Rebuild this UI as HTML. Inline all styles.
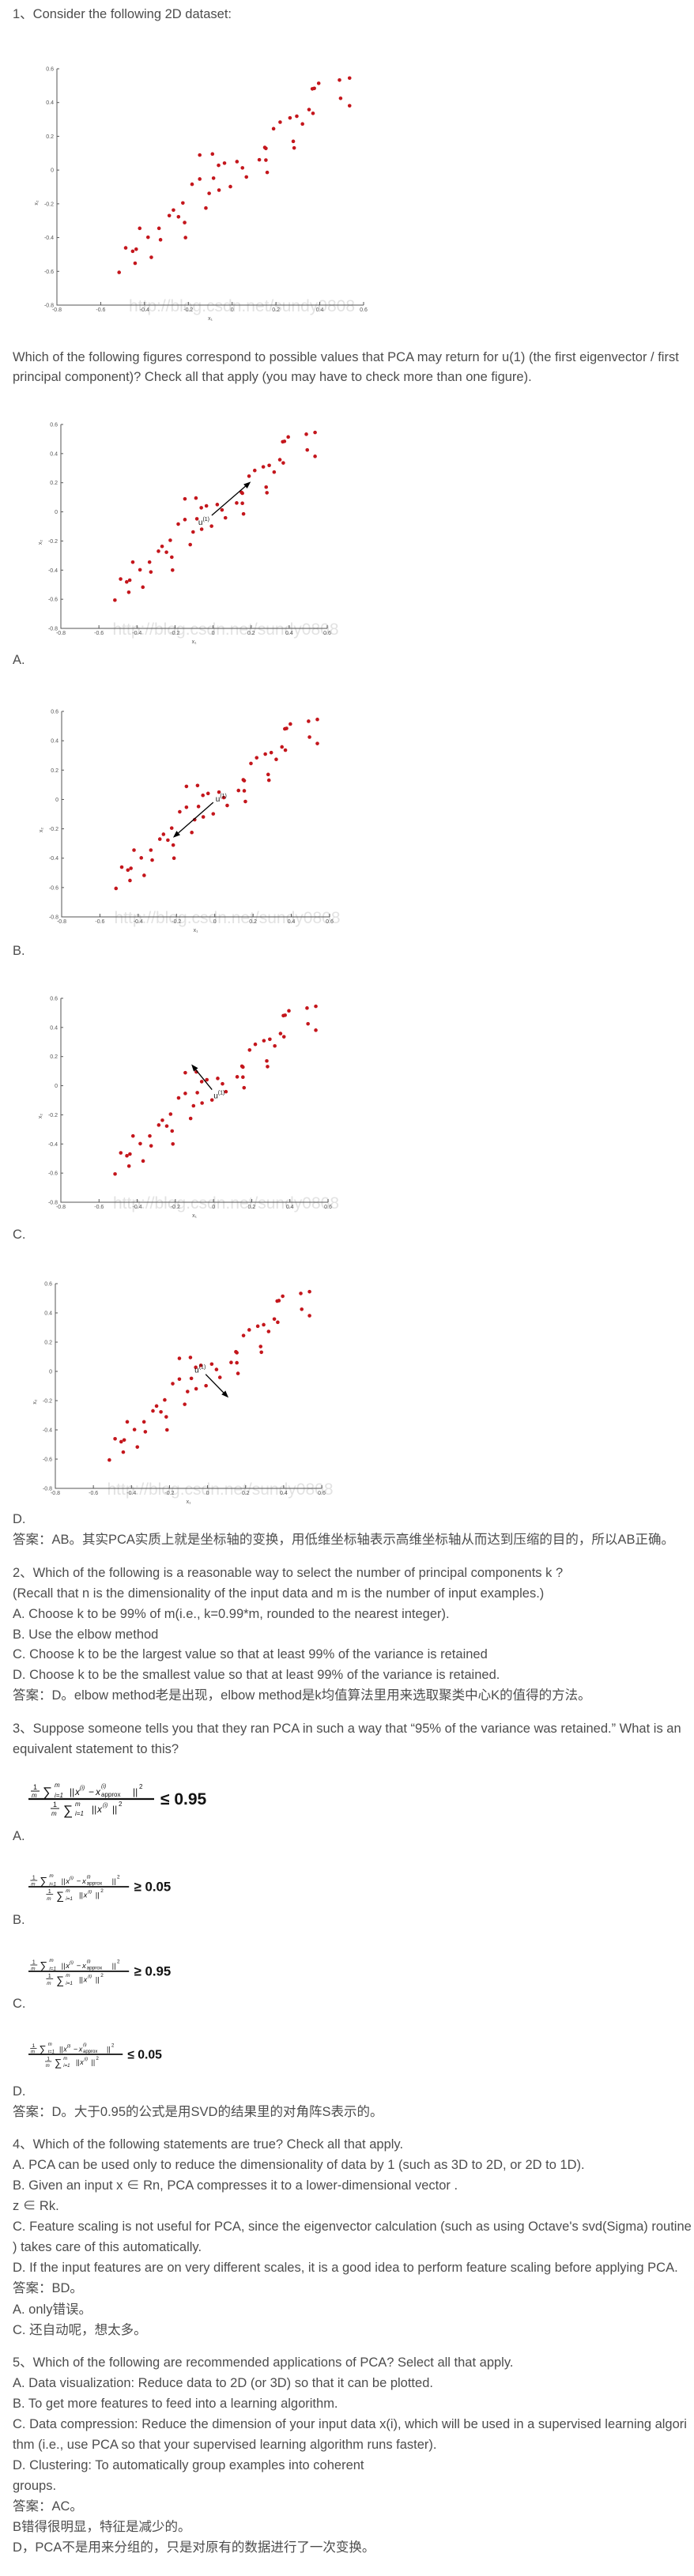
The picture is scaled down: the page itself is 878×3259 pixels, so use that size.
<!DOCTYPE html>
<html><head><meta charset="utf-8">
<style>
html,body{margin:0;padding:0;background:#fff;}
#page{position:relative;width:878px;height:3259px;overflow:hidden;background:#fff;}
.t{position:absolute;left:16px;height:26px;line-height:26px;font-family:"Liberation Sans","Noto Sans CJK SC",sans-serif;font-size:16.5px;color:#4d4d4d;white-space:nowrap;}
svg text{font-family:"Liberation Sans",sans-serif;}
</style></head>
<body>
<div id="page">
<svg id="svg" width="878" height="3259" style="position:absolute;left:0;top:0"></svg>

<div class="t" style="top:5px">1、Consider the following 2D dataset:</div>
<div class="t" style="top:439px">Which of the following figures correspond to possible values that PCA may return for u(1) (the first eigenvector / first</div>
<div class="t" style="top:464px">principal component)? Check all that apply (you may have to check more than one figure).</div>
<div class="t" style="top:822px">A.</div>
<div class="t" style="top:1190px">B.</div>
<div class="t" style="top:1549px">C.</div>
<div class="t" style="top:1909px">D.</div>
<div class="t" style="top:1935px">答案：AB。其实PCA实质上就是坐标轴的变换，用低维坐标轴表示高维坐标轴从而达到压缩的目的，所以AB正确。</div>

<div class="t" style="top:1977px">2、Which of the following is a reasonable way to select the number of principal components k ?</div>
<div class="t" style="top:2003px">(Recall that n is the dimensionality of the input data and m is the number of input examples.)</div>
<div class="t" style="top:2029px">A. Choose k to be 99% of m(i.e., k=0.99*m, rounded to the nearest integer).</div>
<div class="t" style="top:2055px">B. Use the elbow method</div>
<div class="t" style="top:2080px">C. Choose k to be the largest value so that at least 99% of the variance is retained</div>
<div class="t" style="top:2106px">D. Choose k to be the smallest value so that at least 99% of the variance is retained.</div>
<div class="t" style="top:2132px">答案：D。elbow method老是出现，elbow method是k均值算法里用来选取聚类中心K的值得的方法。</div>

<div class="t" style="top:2174px">3、Suppose someone tells you that they ran PCA in such a way that “95% of the variance was retained.” What is an</div>
<div class="t" style="top:2200px">equivalent statement to this?</div>
<div class="t" style="top:2310px">A.</div>
<div class="t" style="top:2416px">B.</div>
<div class="t" style="top:2522px">C.</div>
<div class="t" style="top:2633px">D.</div>
<div class="t" style="top:2659px">答案：D。大于0.95的公式是用SVD的结果里的对角阵S表示的。</div>

<div class="t" style="top:2700px">4、Which of the following statements are true? Check all that apply.</div>
<div class="t" style="top:2726px">A. PCA can be used only to reduce the dimensionality of data by 1 (such as 3D to 2D, or 2D to 1D).</div>
<div class="t" style="top:2752px">B. Given an input x ∈ Rn, PCA compresses it to a lower-dimensional vector .</div>
<div class="t" style="top:2778px">z ∈ Rk.</div>
<div class="t" style="top:2804px">C. Feature scaling is not useful for PCA, since the eigenvector calculation (such as using Octave's svd(Sigma) routine</div>
<div class="t" style="top:2830px">) takes care of this automatically.</div>
<div class="t" style="top:2856px">D. If the input features are on very different scales, it is a good idea to perform feature scaling before applying PCA.</div>
<div class="t" style="top:2882px">答案：BD。</div>
<div class="t" style="top:2909px">A. only错误。</div>
<div class="t" style="top:2935px">C. 还自动呢，想太多。</div>

<div class="t" style="top:2976px">5、Which of the following are recommended applications of PCA? Select all that apply.</div>
<div class="t" style="top:3002px">A. Data visualization: Reduce data to 2D (or 3D) so that it can be plotted.</div>
<div class="t" style="top:3028px">B. To get more features to feed into a learning algorithm.</div>
<div class="t" style="top:3054px">C. Data compression: Reduce the dimension of your input data x(i), which will be used in a supervised learning algori</div>
<div class="t" style="top:3080px">thm (i.e., use PCA so that your supervised learning algorithm runs faster).</div>
<div class="t" style="top:3106px">D. Clustering: To automatically group examples into coherent</div>
<div class="t" style="top:3132px">groups.</div>
<div class="t" style="top:3158px">答案：AC。</div>
<div class="t" style="top:3184px">B错得很明显，特征是减少的。</div>
<div class="t" style="top:3210px">D，PCA不是用来分组的，只是对原有的数据进行了一次变换。</div>
</div>

<script>
// ---- data ----
const xVals = [-0.516,-0.486,-0.454,-0.438,-0.443,-0.422,-0.384,-0.369,-0.334,-0.327,-0.287,-0.268,-0.245,-0.225,-0.217,-0.213,-0.183,-0.148,-0.148,-0.120,-0.105,-0.090,-0.085,-0.062,-0.060,-0.035,-0.008,0.022,0.047,0.065,0.124,0.149,0.154,0.154,0.160,0.189,0.219,0.264,0.279,0.283,0.295,0.321,0.351,0.369,0.366,0.375,0.395,0.490,0.495,0.536,0.536];
const yVals = [-0.606,-0.461,-0.481,-0.469,-0.552,-0.345,-0.398,-0.517,-0.345,-0.413,-0.270,-0.237,-0.277,-0.195,-0.311,-0.400,-0.084,0.089,-0.053,-0.225,-0.138,0.095,-0.048,0.028,-0.119,0.041,-0.098,0.050,0.013,-0.041,0.061,0.134,0.128,0.059,-0.014,0.245,0.284,0.309,0.170,0.131,0.319,0.273,0.358,0.336,0.481,0.484,0.514,0.533,0.425,0.545,0.381];
const xTicks = [-0.8,-0.6,-0.4,-0.2,0,0.2,0.4,0.6];
const xTickLabels = ['-0.8','-0.6','-0.4','-0.2','0','0.2','0.4','0.6'];
const yTicks = [0.6,0.4,0.2,0,-0.2,-0.4,-0.6,-0.8];
const yTickLabels = ['0.6','0.4','0.2','0','-0.2','-0.4','-0.6','-0.8'];
const arrowStartX = [-0.007,-0.008,-0.008,-0.010];
const arrowStartY = [-0.024,-0.020,-0.027,-0.020];
const arrowEndX = [0.198,-0.218,-0.116,0.110];
const arrowEndY = [0.207,-0.260,0.147,-0.180];

const NS='http://www.w3.org/2000/svg';
const svg=document.getElementById('svg');
function mk(tag,attrs,parent){const e=document.createElementNS(NS,tag);for(const k in attrs)e.setAttribute(k,attrs[k]);(parent||svg).appendChild(e);return e;}

const layouts=[
 {name:'dataset-chart',l:72,r:460,t:87,b:386,arrow:-1},
 {name:'option-a-chart',l:77,r:414,t:537,b:795,arrow:0,lx:-17,ly:8},
 {name:'option-b-chart',l:78,r:417,t:900,b:1160,arrow:1,lx:3,ly:-5},
 {name:'option-c-chart',l:77,r:415,t:1263,b:1521,arrow:2,lx:2,ly:7},
 {name:'option-d-chart',l:70,r:407,t:1624,b:1883,arrow:3,lx:-14,ly:-6}
];

layouts.forEach(L=>{
  const g=mk('g',{});
  
  
  const xMin=xTicks[0],xMax=xTicks[xTicks.length-1];
  const yMin=yTicks[yTicks.length-1],yMax=yTicks[0];
  const sx=v=>L.l+(v-xMin)/(xMax-xMin)*(L.r-L.l);
  const sy=v=>L.b-(v-yMin)/(yMax-yMin)*(L.b-L.t);
  const wm=mk('text',{x:(L.l+L.r)/2+40,y:L.b+8,'text-anchor':'middle','font-size':'21','fill':'#e2e2e2','font-family':'Liberation Serif, serif'},g);
  wm.textContent='http://blog.csdn.net/sundy0808';
  
  
  const ax=mk('path',{d:`M${L.l} ${L.t}V${L.b}H${L.r}`,stroke:'#555',fill:'none','stroke-width':'1'},g);
  
  
  xTicks.forEach((v,i)=>{
    const x=sx(v);
    mk('line',{x1:x,x2:x,y1:L.b,y2:L.b-4,stroke:'#555'},g);
    const t=mk('text',{x:x,y:L.b+8,'text-anchor':'middle','font-size':'7','fill':'#555'},g);
    t.textContent=xTickLabels[i];
    
    
  });
  yTicks.forEach((v,i)=>{
    const y=sy(v);
    mk('line',{x1:L.l,x2:L.l+3,y1:y,y2:y,stroke:'#555'},g);
    const t=mk('text',{x:L.l-4,y:y+2.5,'text-anchor':'end','font-size':'7','fill':'#555'},g);
    t.textContent=yTickLabels[i];
    
    
  });
  const xl=mk('text',{x:(L.l+L.r)/2,y:L.b+19,'text-anchor':'middle','font-size':'7','fill':'#555'},g);
  xl.textContent='x₁';
  
  
  const yl=mk('text',{x:L.l-24,y:(L.t+L.b)/2+20,'text-anchor':'middle','font-size':'7','fill':'#555',transform:`rotate(-90 ${L.l-24} ${(L.t+L.b)/2+20})`},g);
  yl.textContent='x₂';
  
  
  xVals.forEach((v,i)=>{
    const c=mk('circle',{cx:sx(v),cy:sy(yVals[i]),r:2.3,fill:'#c4161c'},g);
    
    
  });
  if(L.arrow>=0){
    const k=L.arrow;
    const x1=sx(arrowStartX[k]),y1=sy(arrowStartY[k]),x2=sx(arrowEndX[k]),y2=sy(arrowEndY[k]);
    const ang=Math.atan2(y2-y1,x2-x1),hl=9,hw=3.5;
    const bx=x2-hl*Math.cos(ang),by=y2-hl*Math.sin(ang);
    const ln=mk('line',{x1:x1,y1:y1,x2:bx,y2:by,stroke:'#000','stroke-width':'1.3'},g);
    
    
    const px=-Math.sin(ang),py=Math.cos(ang);
    const hd=mk('polygon',{points:`${x2},${y2} ${bx+hw*px},${by+hw*py} ${bx-hw*px},${by-hw*py}`,fill:'#000'},g);
    
    
    const lab=mk('text',{x:x1+L.lx,y:y1+L.ly+4,'font-size':'10','fill':'#111'},g);
    
    
    lab.innerHTML='u<tspan dy="-5" font-size="7">(1)</tspan>';
  }
});

const formulas=[
 {name:'formula-a',x:36,y:2276,s:1,rel:'≤ 0.95'},
 {name:'formula-b',x:36,y:2387,s:0.8,rel:'≥ 0.05'},
 {name:'formula-c',x:36,y:2494,s:0.8,rel:'≥ 0.95'},
 {name:'formula-d',x:36,y:2599,s:0.75,rel:'≤ 0.05'}
];
formulas.forEach(F=>{
  const g=mk('g',{transform:`translate(${F.x} ${F.y}) scale(${F.s})`});
  
  
  const T=(x,y,sz,txt,it)=>{const t=mk('text',{x:x,y:y,'font-size':sz,fill:'#111','font-family':'Liberation Serif, serif','font-style':it?'italic':'normal'},g);t.textContent=txt;return t;};
  mk('line',{x1:0,x2:159,y1:0,y2:0,stroke:'#111','stroke-width':'2.2'},g);
  T(6,-12,9,'1');mk('line',{x1:3,x2:14,y1:-10,y2:-10,stroke:'#111','stroke-width':'1'},g);T(4,-2,8,'m',1);
  T(18,-3,17,'∑');T(33,-15,8,'m',1);T(33,-2,8,'i=1',1);
  T(52,-5,12,'||');T(59,-5,12,'x',1);T(65,-12,7,'(i)',1);T(76,-5,12,'−');T(85,-5,12,'x',1);T(92,-14,7,'(i)',1);T(92,-3,8,'approx');T(132,-5,12,'||');T(140,-13,8,'2');
  T(31,10,9,'1');mk('line',{x1:28,x2:39,y1:12,y2:12,stroke:'#111','stroke-width':'1'},g);T(29,21,8,'m',1);
  T(44,20,17,'∑');T(59,9,8,'m',1);T(59,21,8,'i=1',1);
  T(80,17,12,'||');T(87,17,12,'x',1);T(94,10,7,'(i)',1);T(106,17,12,'||');T(114,9,8,'2');
  const r=T(167,7,21,F.rel);r.setAttribute('font-weight','bold');
});
</script>
</body></html>
